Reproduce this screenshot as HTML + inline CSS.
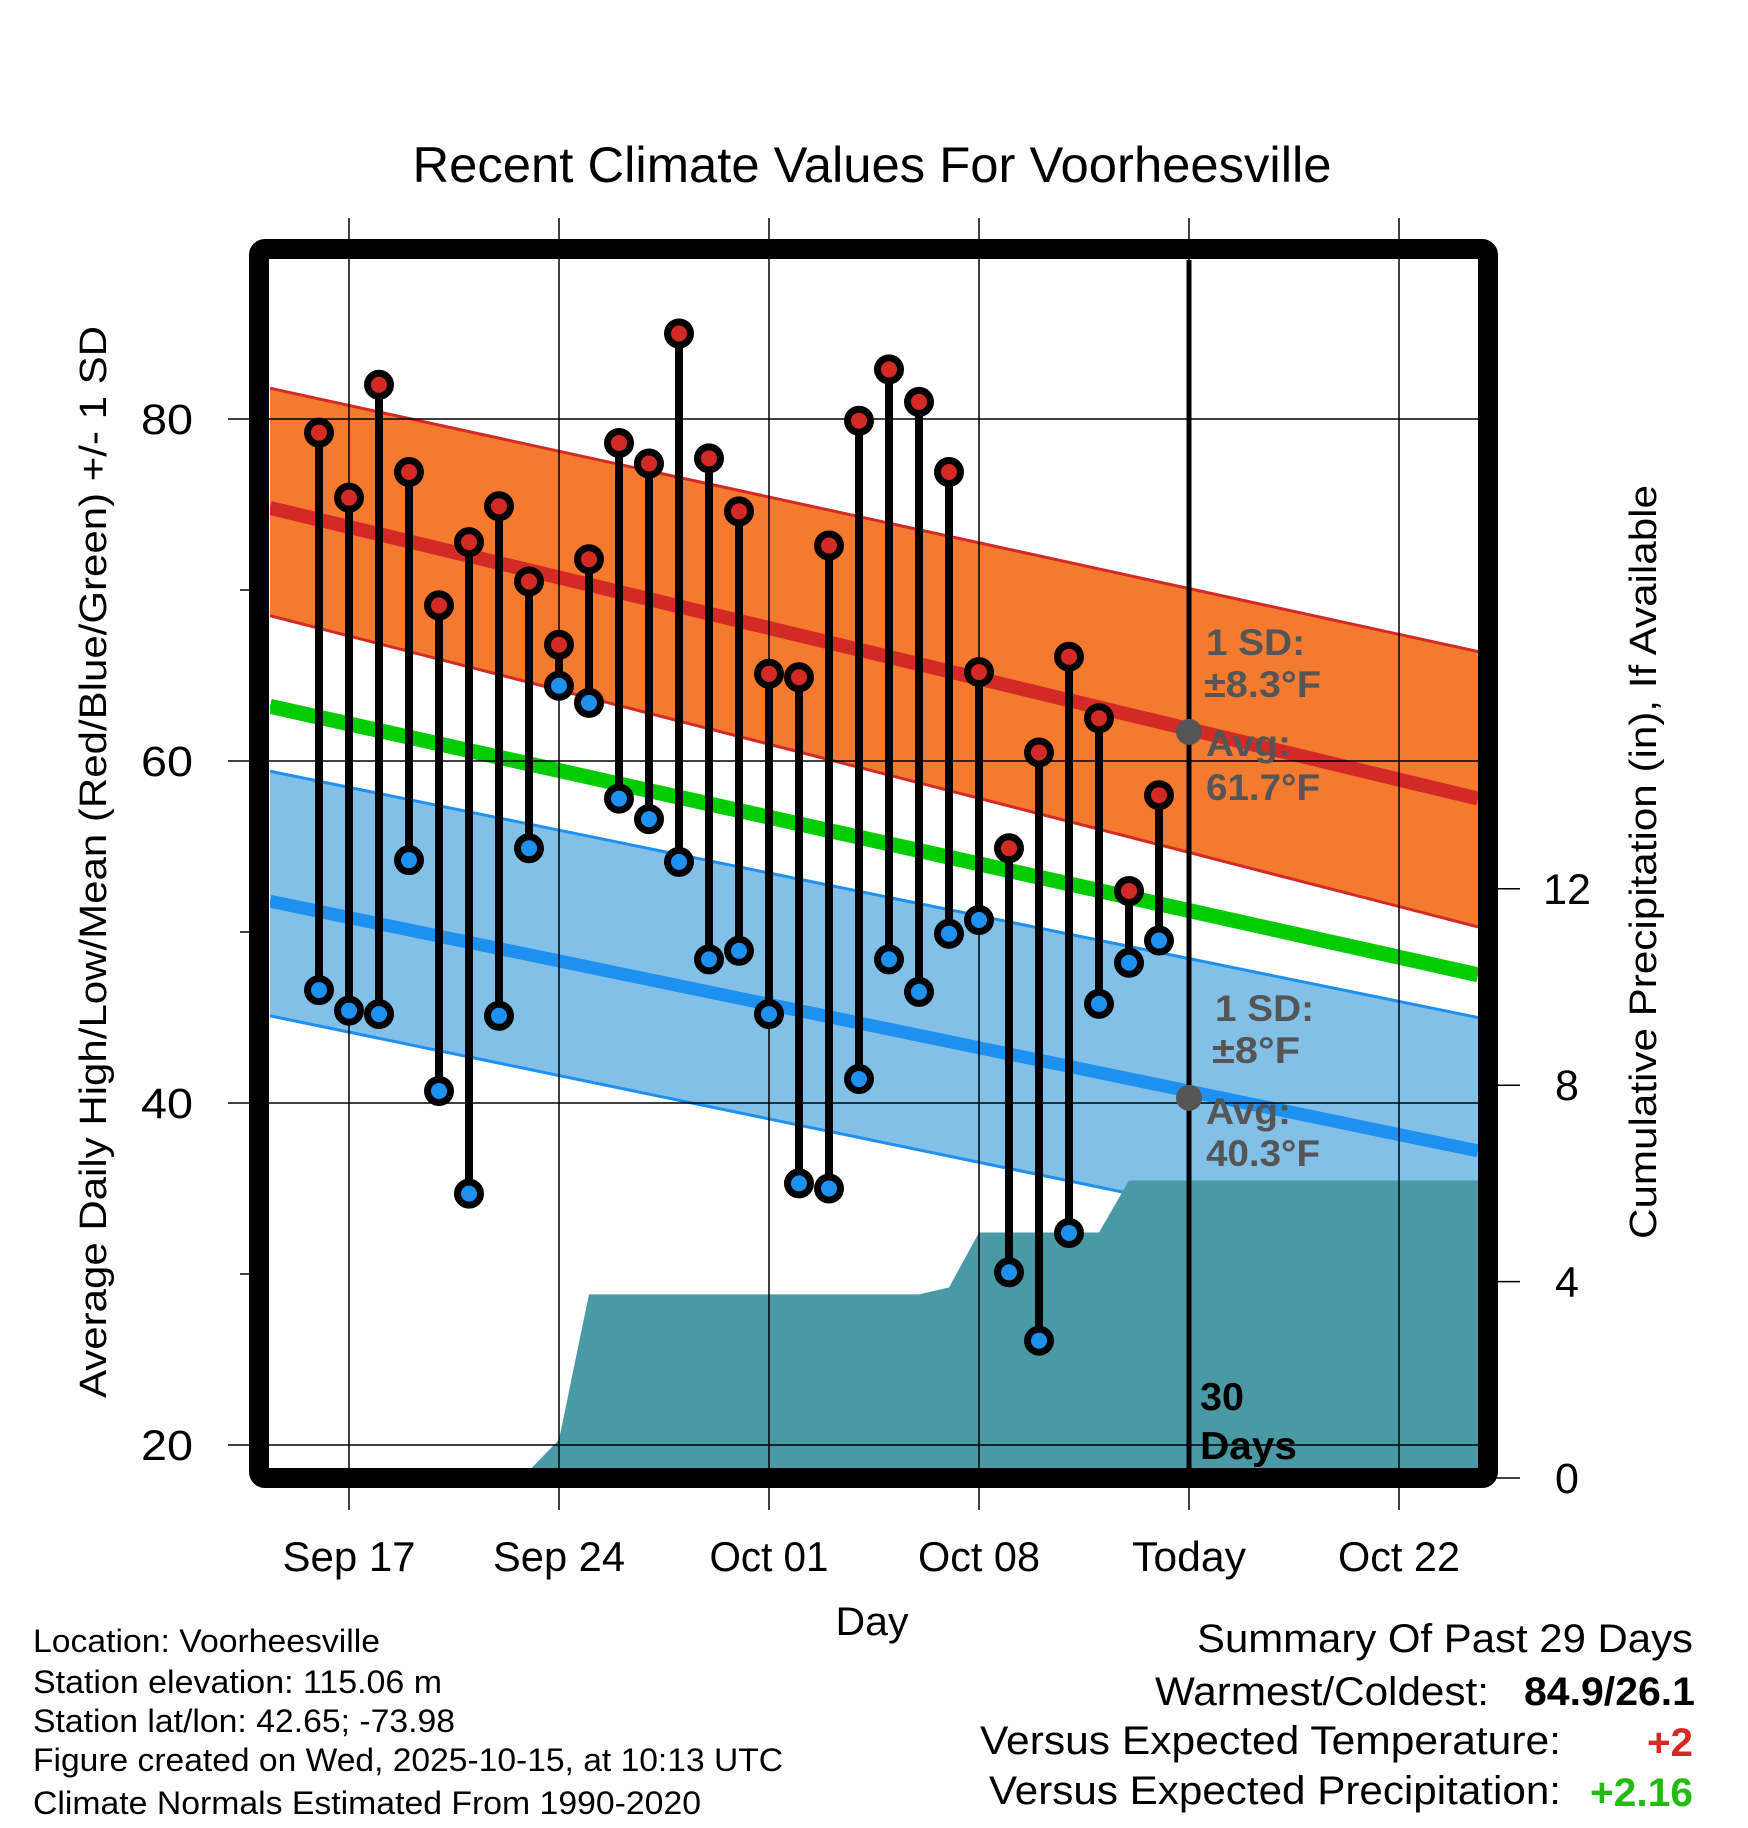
<!DOCTYPE html>
<html><head><meta charset="utf-8"><style>
html,body{margin:0;padding:0;background:#fff;}
svg{display:block;font-family:"Liberation Sans",sans-serif;}
</style></head><body>
<svg id="chart" width="1748" height="1828" viewBox="0 0 1748 1828" xmlns="http://www.w3.org/2000/svg">
<defs><clipPath id="plotclip"><rect x="270" y="260" width="1208" height="1208"/></clipPath></defs>
<text x="872" y="182" font-size="50" text-anchor="middle" textLength="919" lengthAdjust="spacingAndGlyphs">Recent Climate Values For Voorheesville</text>
<g id="bands" clip-path="url(#plotclip)"></g>
<g id="grid"></g>
<g id="marks"></g>
<rect x="259" y="249" width="1229" height="1229" rx="6" fill="none" stroke="#000" stroke-width="20"/>
<g id="axes"></g>
<g font-size="37" font-weight="bold" fill="#555" lengthAdjust="spacingAndGlyphs">
<text x="1206" y="655" textLength="99" lengthAdjust="spacingAndGlyphs">1 SD:</text>
<text x="1204" y="697" textLength="117" lengthAdjust="spacingAndGlyphs">±8.3°F</text>
<text x="1206" y="756" textLength="85" lengthAdjust="spacingAndGlyphs">Avg:</text>
<text x="1206" y="800" textLength="114" lengthAdjust="spacingAndGlyphs">61.7°F</text>
</g>
<g font-size="37" font-weight="bold" fill="#555">
<text x="1215" y="1021" textLength="99" lengthAdjust="spacingAndGlyphs">1 SD:</text>
<text x="1212" y="1063" textLength="88" lengthAdjust="spacingAndGlyphs">±8°F</text>
<text x="1206" y="1124" textLength="85" lengthAdjust="spacingAndGlyphs">Avg:</text>
<text x="1206" y="1166" textLength="114" lengthAdjust="spacingAndGlyphs">40.3°F</text>
</g>
<g font-size="39" font-weight="bold" fill="#000">
<text x="1200" y="1410" textLength="44" lengthAdjust="spacingAndGlyphs">30</text>
<text x="1200" y="1459" textLength="97" lengthAdjust="spacingAndGlyphs">Days</text>
</g>
<text x="872" y="1635" font-size="40" text-anchor="middle" textLength="73" lengthAdjust="spacingAndGlyphs">Day</text>
<text transform="translate(106,862) rotate(-90)" font-size="38" text-anchor="middle" textLength="1072" lengthAdjust="spacingAndGlyphs">Average Daily High/Low/Mean (Red/Blue/Green) +/- 1 SD</text>
<text transform="translate(1656,862) rotate(-90)" font-size="38" text-anchor="middle" textLength="754" lengthAdjust="spacingAndGlyphs">Cumulative Precipitation (in), If Available</text>
<g font-size="32" fill="#000">
<text x="33" y="1652" textLength="347" lengthAdjust="spacingAndGlyphs">Location: Voorheesville</text>
<text x="33" y="1693" textLength="409" lengthAdjust="spacingAndGlyphs">Station elevation: 115.06 m</text>
<text x="33" y="1732" textLength="422" lengthAdjust="spacingAndGlyphs">Station lat/lon: 42.65; -73.98</text>
<text x="33" y="1771" textLength="750" lengthAdjust="spacingAndGlyphs">Figure created on Wed, 2025-10-15, at 10:13 UTC</text>
<text x="33" y="1814" textLength="668" lengthAdjust="spacingAndGlyphs">Climate Normals Estimated From 1990-2020</text>
</g>
<g font-size="40" fill="#000">
<text x="1197" y="1652" textLength="496" lengthAdjust="spacingAndGlyphs">Summary Of Past 29 Days</text>
<text x="1155" y="1705" textLength="334" lengthAdjust="spacingAndGlyphs">Warmest/Coldest:</text>
<text x="1524" y="1705" font-weight="bold" textLength="171" lengthAdjust="spacingAndGlyphs">84.9/26.1</text>
<text x="980" y="1754" textLength="581" lengthAdjust="spacingAndGlyphs">Versus Expected Temperature:</text>
<text x="1647" y="1756" font-weight="bold" fill="#d42a26" textLength="46" lengthAdjust="spacingAndGlyphs">+2</text>
<text x="989" y="1804" textLength="572" lengthAdjust="spacingAndGlyphs">Versus Expected Precipitation:</text>
<text x="1590" y="1806" font-weight="bold" fill="#22bb11" textLength="103" lengthAdjust="spacingAndGlyphs">+2.16</text>
</g>
</svg>
<script>
const highs=[79.2,75.4,82.0,76.9,69.1,72.8,74.9,70.5,66.8,71.8,78.6,77.4,85.0,77.7,74.6,65.1,64.9,72.6,79.9,82.9,81.0,76.9,65.2,54.9,60.5,66.1,62.5,52.4,58.0];
const lows=[46.6,45.4,45.2,54.2,40.7,34.7,45.1,54.9,64.4,63.4,57.8,56.6,54.1,48.4,48.9,45.2,35.3,35.0,41.4,48.4,46.5,49.9,50.7,30.1,26.1,32.4,45.8,48.2,49.5];
const precipCum=[0,0,0,0,0,0,0,0.15,0.78,3.74,3.74,3.74,3.74,3.74,3.74,3.74,3.74,3.74,3.74,3.74,3.74,3.88,5.0,5.0,5.0,5.0,5.0,6.06,6.06,6.06];
const normHigh=[74.8,57.8], normHighUp=[81.8,66.4], normHighLo=[68.5,50.3];
const normMean=[63.2,47.5];
const normLow=[51.8,37.2], normLowUp=[59.4,45.0], normLowLo=[45.1,30.5];
const todayHigh=61.7, todayLow=40.3;
const xTickLabels=["Sep 17","Sep 24","Oct 01","Oct 08","Today","Oct 22"];
const xTickDays=[1,8,15,22,29,36];
const xTickWidths=[133,132,119,122,114,122];
const yTicks=[20,40,60,80];
const yMinor=[30,50,70];
const pTicks=[0,4,8,12];

const NS="http://www.w3.org/2000/svg";
const X=d=>319+d*30;
const Y=t=>419+(80-t)*17.1;
const P=p=>1478-p*49.1;
const XL=270, XR=1478;
function mk(tag,attrs,parent){const e=document.createElementNS(NS,tag);for(const k in attrs)e.setAttribute(k,attrs[k]);parent.appendChild(e);return e;}
const bands=document.getElementById('bands'),grid=document.getElementById('grid'),marks=document.getElementById('marks'),axes=document.getElementById('axes');
function band(up,lo,fill,stroke,name){
  const el=mk('polygon',{points:`${XL},${Y(up[0])} ${XR},${Y(up[1])} ${XR},${Y(lo[1])} ${XL},${Y(lo[0])}`,fill:fill},bands);
  
  
  mk('line',{x1:XL,y1:Y(up[0]),x2:XR,y2:Y(up[1]),stroke:stroke,'stroke-width':3},bands);
  mk('line',{x1:XL,y1:Y(lo[0]),x2:XR,y2:Y(lo[1]),stroke:stroke,'stroke-width':3},bands);
}
band(normHighUp,normHighLo,'#f47a30','#d42a26','high-sd-band');
band(normLowUp,normLowLo,'#82c0e8','#1e90f0','low-sd-band');
function nline(v,c,w,name){const el=mk('line',{x1:XL,y1:Y(v[0]),x2:XR,y2:Y(v[1]),stroke:c,'stroke-width':w},bands);
  
  }
nline(normHigh,'#d42a26',14,'normal-high-line');
nline(normMean,'#00cc00',15,'normal-mean-line');
nline(normLow,'#1e90f0',13,'normal-low-line');
let first=precipCum.findIndex(v=>v>0)-1;
let pts=`${X(first)+15},${P(0)} `;
for(let i=first+1;i<precipCum.length;i++)pts+=`${X(i)},${P(precipCum[i])} `;
pts+=`${XR},${P(precipCum[precipCum.length-1])} ${XR},${P(0)}`;
const pr=mk('polygon',{points:pts,fill:'#4a9aa5'},bands);


xTickDays.forEach((d,i)=>{
  mk('line',{x1:X(d),y1:218,x2:X(d),y2:1510,stroke:'#000','stroke-width':1.5},grid);
  const t=mk('text',{x:X(d),y:1571,'font-size':42,'text-anchor':'middle',textLength:xTickWidths[i],lengthAdjust:'spacingAndGlyphs'},axes);
  t.textContent=xTickLabels[i];
  
  
});
yTicks.forEach(v=>{
  mk('line',{x1:228,y1:Y(v),x2:XR,y2:Y(v),stroke:'#000','stroke-width':1.5},grid);
  const t=mk('text',{x:193,y:Y(v)+15,'font-size':43,'text-anchor':'end',textLength:52,lengthAdjust:'spacingAndGlyphs'},axes);
  t.textContent=v;
  
  
});
yMinor.forEach(v=>mk('line',{x1:240,y1:Y(v),x2:255,y2:Y(v),stroke:'#000','stroke-width':1.5},axes));
pTicks.forEach(v=>{
  mk('line',{x1:1490,y1:P(v),x2:1520,y2:P(v),stroke:'#000','stroke-width':1.5},axes);
  const t=mk('text',{x:1567,y:P(v)+15,'font-size':43,'text-anchor':'middle'},axes);
  t.textContent=v;
  
  
});
const tl=mk('line',{x1:X(29),y1:260,x2:X(29),y2:1470,stroke:'#000','stroke-width':5},marks);


highs.forEach((h,i)=>{
  const s=mk('line',{x1:X(i),y1:Y(h),x2:X(i),y2:Y(lows[i]),stroke:'#000','stroke-width':8},marks);
  
  
});
function dot(d,v,fill,name){
  const c=mk('circle',{cx:X(d),cy:Y(v),r:11.5,fill:fill,stroke:'#000','stroke-width':7},marks);
  
  
}
highs.forEach((h,i)=>dot(i,h,'#d42a26','high-point'));
lows.forEach((l,i)=>dot(i,l,'#1e90f0','low-point'));
[todayHigh,todayLow].forEach(v=>{
  const c=mk('circle',{cx:X(29),cy:Y(v),r:13,fill:'#555'},marks);
  
  
});
</script>
</body></html>
